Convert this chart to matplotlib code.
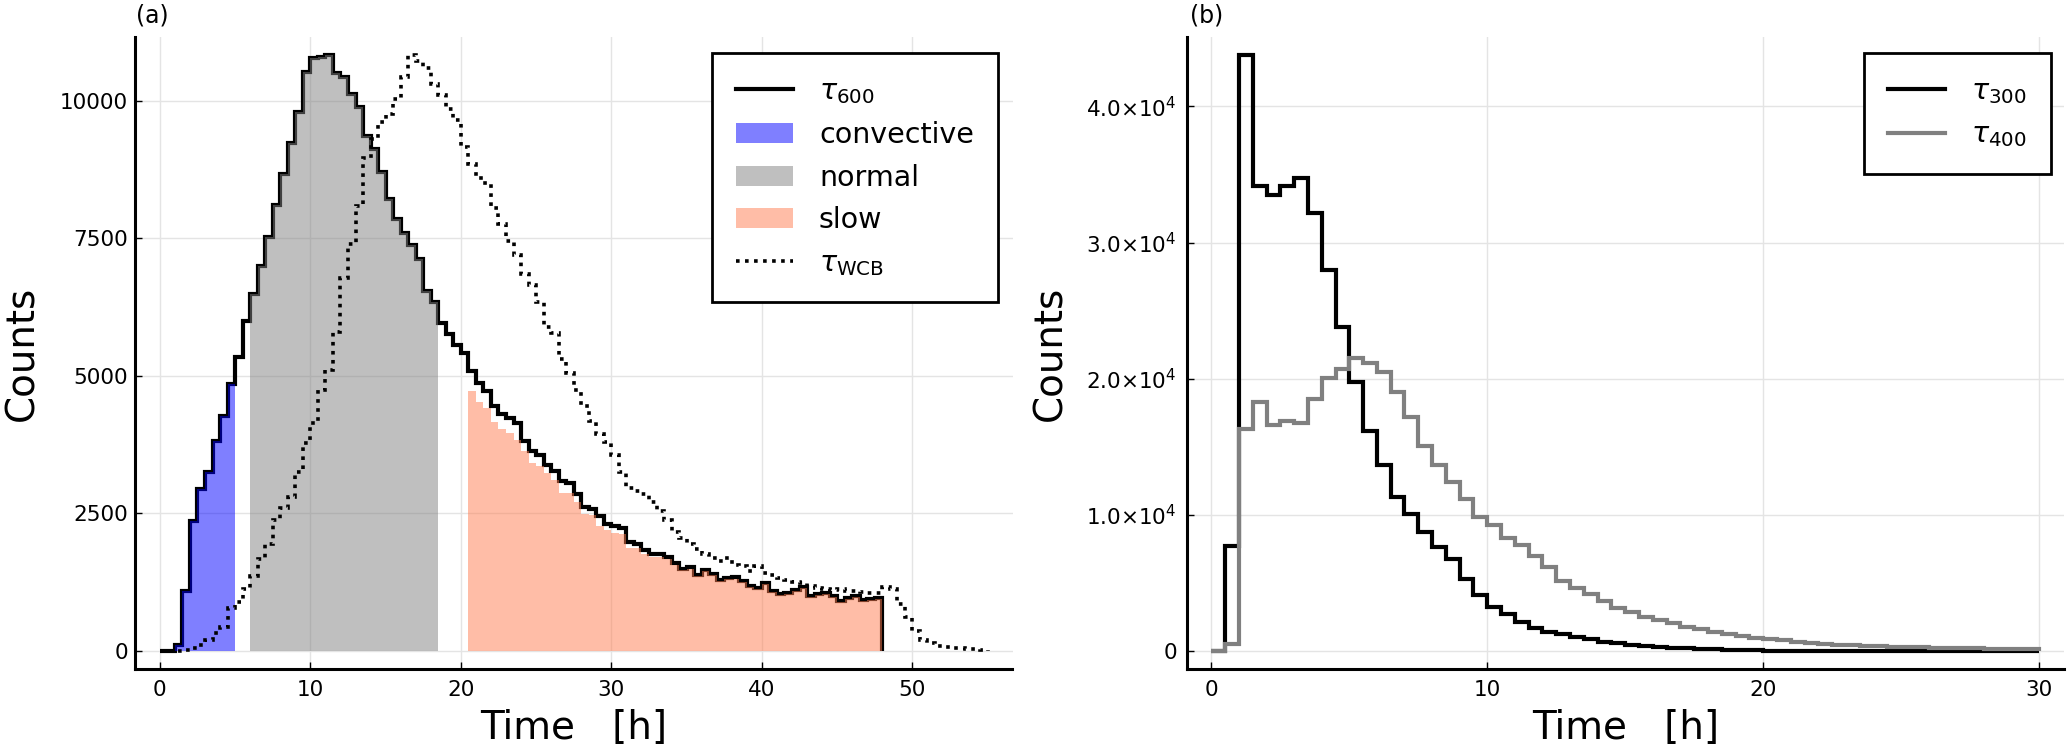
import numpy as np
import matplotlib
matplotlib.use("Agg")
import matplotlib.pyplot as plt
from matplotlib.lines import Line2D
from matplotlib.patches import Patch

# ---------------- data ----------------
bin_width = 0.5  # hours

# panel (a): histogram of tau_600, 0 .. 48 h
tau600_start = 0.0
tau600 = [0, 0, 120, 1090, 2360, 2950, 3245, 3810, 4275, 4860,
          5345, 5990, 6480, 6995, 7530, 8100, 8665, 9225, 9785, 10520,
          10780, 10800, 10830, 10510, 10420, 10115, 9875, 9360, 9120, 8705,
          8220, 7845, 7600, 7370, 7120, 6550, 6335, 5965, 5760, 5565,
          5415, 5095, 4865, 4720, 4447, 4300, 4226, 4152, 3820, 3636,
          3562, 3378, 3267, 3083, 3046, 2861, 2625, 2581, 2456, 2308,
          2271, 2235, 1977, 1940, 1829, 1770, 1755, 1718, 1608, 1497,
          1519, 1387, 1475, 1400, 1300, 1330, 1340, 1270, 1180, 1150,
          1240, 1090, 1045, 1055, 1105, 1165, 1010, 1045, 1055, 995,
          905, 965, 995, 935, 950, 965]

# tau_WCB, 0 .. 55 h
tauwcb_start = 0.0
tauwcb = [0, 0, 5, 20, 60, 110, 210, 320, 430, 780,
          900, 1130, 1370, 1680, 1940, 2380, 2600, 2800, 3250, 3780,
          4150, 4750, 5100, 5800, 6780, 7400, 8080, 8950, 9300, 9620,
          9750, 10020, 10420, 10830, 10720, 10600, 10300, 10100, 9850, 9650,
          9150, 8850, 8600, 8500, 8050, 7760, 7450, 7200, 6850, 6650,
          6350, 5880, 5780, 5300, 5050, 4750, 4450, 4180, 3950, 3800,
          3560, 3250, 2970, 2910, 2850, 2700, 2550, 2380, 2160, 2060,
          1940, 1860, 1760, 1690, 1630, 1690, 1570, 1540, 1450, 1540,
          1420, 1380, 1330, 1300, 1260, 1240, 1180, 1150, 1120, 1110,
          1120, 1100, 1090, 1070, 1060, 1060, 1170, 1130, 860, 620,
          360, 200, 140, 90, 70, 60, 50, 45, 35, 25]

# slow trajectories, 20.5 .. 48 h
slow_start = 20.5
slow = [4720, 4520, 4410, 4170, 4040, 3970, 3835, 3640, 3415, 3365,
        3230, 3100, 2880, 2870, 2715, 2495, 2470, 2270, 2200, 2140,
        2130, 1870, 1870, 1755, 1715, 1705, 1675, 1570, 1465, 1490,
        1360, 1450, 1375, 1275, 1305, 1315, 1250, 1160, 1130, 1220,
        1070, 1025, 1035, 1085, 1145, 990, 1025, 1035, 975, 885,
        945, 975, 915, 930, 945]

# class boundaries (h) taken from the tau_600 histogram
convective_range = (1.0, 5.0)
normal_range = (6.0, 18.5)

# panel (b): tau_300 and tau_400, 0 .. 30 h
right_start = 0.0
tau300 = [0, 7740, 43780, 34160, 33480, 34160, 34760, 32170, 27970, 23810,
          19730, 16160, 13630, 11310, 10060, 8720, 7620, 6790, 5300, 4110,
          3270, 2720, 2150, 1710, 1390, 1220, 1050, 860, 690, 560,
          440, 370, 290, 245, 195, 150, 120, 98, 75, 55,
          45, 38, 32, 27, 23, 20, 17, 15, 13, 11,
          10, 9, 8, 7, 6, 5, 5, 4, 4, 3]
tau400 = [0, 535, 16310, 18300, 16610, 16900, 16760, 18540, 20090, 20680,
          21520, 21130, 20480, 18990, 17200, 15030, 13630, 12440, 11160, 9820,
          9230, 8300, 7800, 7020, 6190, 5180, 4650, 4160, 3670, 3180,
          2890, 2520, 2270, 2080, 1790, 1590, 1420, 1220, 1100, 980,
          860, 780, 690, 610, 540, 470, 420, 370, 340, 320,
          290, 270, 250, 230, 210, 200, 185, 170, 160, 150]

left_xticks = [0, 10, 20, 30, 40, 50]
left_yticks = [0, 2500, 5000, 7500, 10000]
left_yticklabels = ["0", "2500", "5000", "7500", "10000"]
right_xticks = [0, 10, 20, 30]
right_yticks = [0, 1e4, 2e4, 3e4, 4e4]
right_yticklabels = ["0", r"$1.0{\times}10^{4}$", r"$2.0{\times}10^{4}$",
                     r"$3.0{\times}10^{4}$", r"$4.0{\times}10^{4}$"]

# ---------------- helpers ----------------
def edges_of(start, vals):
    return start + bin_width * np.arange(len(vals) + 1)

def sub(vals, start, lo, hi):
    i0 = int(round((lo - start) / bin_width))
    i1 = int(round((hi - start) / bin_width))
    e = edges_of(start, vals)
    return np.asarray(vals[i0:i1]), e[i0:i1 + 1]

# ---------------- style ----------------
plt.rcParams["font.family"] = ["DejaVu Sans"]
plt.rcParams["mathtext.fontset"] = "dejavusans"

W, H = 2067, 751
fig = plt.figure(figsize=(W / 100, H / 100), dpi=100)
axL = fig.add_axes([135 / W, 82 / H, 877.5 / W, 632 / H])
axR = fig.add_axes([1186.5 / W, 82 / H, 877.5 / W, 632 / H])

BLUE = "#0000ff"
GRAY = "#808080"
SALMON = "#ff7d50"
LW = 3.0
DOT_LW = 2.6
DOTS = (0, (1, 1.5))

for ax in (axL, axR):
    ax.set_axisbelow(True)
    ax.grid(True, color="#e4e4e4", lw=1.0)
    for s in ("top", "right"):
        ax.spines[s].set_visible(False)
    for s in ("left", "bottom"):
        ax.spines[s].set_linewidth(2.2)
    ax.tick_params(direction="in", length=5, width=1.0, labelsize=15.5)
    ax.tick_params(axis="x", pad=8)

# ---------------- panel (a) ----------------
e600 = edges_of(tau600_start, tau600)
axL.stairs(tau600, e600, baseline=0, color="black", lw=LW, joinstyle="miter", zorder=2)

cv, ce = sub(tau600, tau600_start, *convective_range)
axL.stairs(cv, ce, baseline=0, fill=True, color=BLUE, alpha=0.5, lw=0, zorder=3)
nv, ne = sub(tau600, tau600_start, *normal_range)
axL.stairs(nv, ne, baseline=0, fill=True, color=GRAY, alpha=0.5, lw=0, zorder=3)
axL.stairs(slow, edges_of(slow_start, slow), baseline=0, fill=True,
           color=SALMON, alpha=0.5, lw=0, zorder=3)

ewcb = edges_of(tauwcb_start, tauwcb)
axL.stairs(tauwcb, ewcb, baseline=0, color="black", lw=DOT_LW,
           linestyle=DOTS, zorder=4)

xmaxL = max(e600[-1], ewcb[-1])
ymaxL = max(max(tau600), max(tauwcb))
axL.set_xlim(-0.03 * xmaxL, 1.03 * xmaxL)
axL.set_ylim(-0.03 * ymaxL, 1.03 * ymaxL)
axL.set_xticks(left_xticks)
axL.set_yticks(left_yticks)
axL.set_yticklabels(left_yticklabels)
axL.tick_params(axis="y", pad=5)

axL.set_xlabel("Time   [h]", fontsize=28)
axL.xaxis.set_label_coords(0.5, -0.063)
axL.set_ylabel("Counts", fontsize=28)
axL.yaxis.set_label_coords(-0.107, 0.5)

handlesL = [
    Line2D([], [], color="black", lw=LW),
    Patch(facecolor=BLUE, alpha=0.5, lw=0),
    Patch(facecolor=GRAY, alpha=0.5, lw=0),
    Patch(facecolor=SALMON, alpha=0.5, lw=0),
    Line2D([], [], color="black", lw=DOT_LW, linestyle=DOTS),
]
labelsL = [r"$\tau_{600}$", "convective", "normal", "slow", r"$\tau_{\mathrm{WCB}}$"]
legL = axL.legend(handlesL, labelsL, loc="upper right", bbox_to_anchor=(0.9835, 0.9747),
                  borderaxespad=0, fontsize=20.5, frameon=True, fancybox=False,
                  edgecolor="black", framealpha=1, handlelength=2.0,
                  handletextpad=0.9, borderpad=0.85, labelspacing=0.52)
legL.get_frame().set_linewidth(2.0)

fig.text(136 / W, 1 - 16 / H, "(a)", fontsize=17, ha="left", va="center")

# ---------------- panel (b) ----------------
eR300 = edges_of(right_start, tau300)
eR400 = edges_of(right_start, tau400)
axR.stairs(tau300, eR300, baseline=0, color="black", lw=LW, joinstyle="miter", zorder=2)
axR.stairs(tau400, eR400, baseline=0, color=GRAY, lw=LW, joinstyle="miter", zorder=3)

xmaxR = max(eR300[-1], eR400[-1])
ymaxR = max(max(tau300), max(tau400))
axR.set_xlim(-0.03 * xmaxR, 1.03 * xmaxR)
axR.set_ylim(-0.03 * ymaxR, 1.03 * ymaxR)
axR.set_xticks(right_xticks)
axR.set_yticks(right_yticks)
axR.set_yticklabels(right_yticklabels)
axR.tick_params(axis="y", pad=7)

axR.set_xlabel("Time   [h]", fontsize=28)
axR.xaxis.set_label_coords(0.5, -0.063)
axR.set_ylabel("Counts", fontsize=28)
axR.yaxis.set_label_coords(-0.133, 0.5)

handlesR = [Line2D([], [], color="black", lw=LW), Line2D([], [], color=GRAY, lw=LW)]
labelsR = [r"$\tau_{300}$", r"$\tau_{400}$"]
legR = axR.legend(handlesR, labelsR, loc="upper right", bbox_to_anchor=(0.985, 0.975),
                  borderaxespad=0, fontsize=20.5, frameon=True, fancybox=False,
                  edgecolor="black", framealpha=1, handlelength=2.0,
                  handletextpad=0.9, borderpad=0.85, labelspacing=0.52)
legR.get_frame().set_linewidth(2.0)

fig.text(1190 / W, 1 - 16 / H, "(b)", fontsize=17, ha="left", va="center")

fig.savefig("out.png", dpi=100)
